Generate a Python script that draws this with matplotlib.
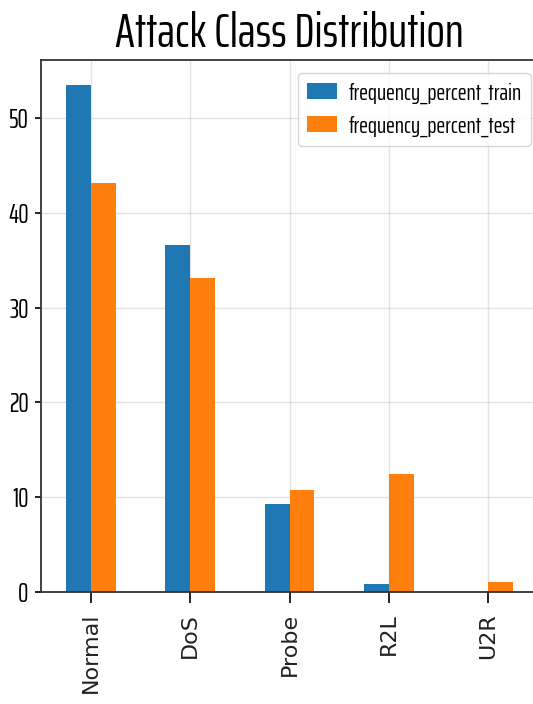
import numpy as np
import matplotlib
matplotlib.use("Agg")
import matplotlib.pyplot as plt

## Data ##################################################################
classes = ["Normal", "DoS", "Probe", "R2L", "U2R"]
freq_train = [53.45, 36.65, 9.3, 0.85, 0.04]
freq_test = [43.1, 33.1, 10.8, 12.4, 1.1]
labels = ["frequency_percent_train", "frequency_percent_test"]
yticks = [0, 10, 20, 30, 40, 50]

## Plot ##################################################################
narrow = ["Saira ExtraCondensed", "DejaVu Sans"]

fig = plt.figure(figsize=(5.33, 7.04), dpi=100)
# axes runs a bit past the right edge of the picture, as in the reference
ax = fig.add_axes([0.077, 0.159, 0.9325, 0.756])

x = np.arange(len(classes))
w = 0.25
ax.bar(x - w / 2, freq_train, w, color="#1f77b4", label=labels[0])
ax.bar(x + w / 2, freq_test, w, color="#ff7f0e", label=labels[1])

ax.set_xlim(-0.5, len(classes) - 0.5)
ax.set_ylim(0, max(freq_train) * 1.05)
ax.set_xticks(x)
ax.set_xticklabels(classes, rotation=90, fontsize=16, color="#222222")
ax.set_yticks(yticks)
ax.set_yticklabels([str(t) for t in yticks], family=narrow, fontsize=19)
ax.tick_params(axis="x", length=8, width=1.2, pad=7)
ax.tick_params(axis="y", length=4, width=1.2, pad=5)
for s in ax.spines.values():
    s.set_linewidth(1.3)
    s.set_color("#333333")
ax.grid(True, color="#b0b0b0", alpha=0.35, lw=1)
ax.set_axisbelow(True)

ax.set_title("Attack Class Distribution", family=narrow, fontsize=35, pad=9)
ax.legend(loc="upper right", bbox_to_anchor=(0.986, 0.9756), borderaxespad=0,
          prop={"family": narrow, "size": 17},
          handlelength=1.25, handleheight=0.7, handletextpad=0.5)

fig.savefig("out.png", dpi=100)
